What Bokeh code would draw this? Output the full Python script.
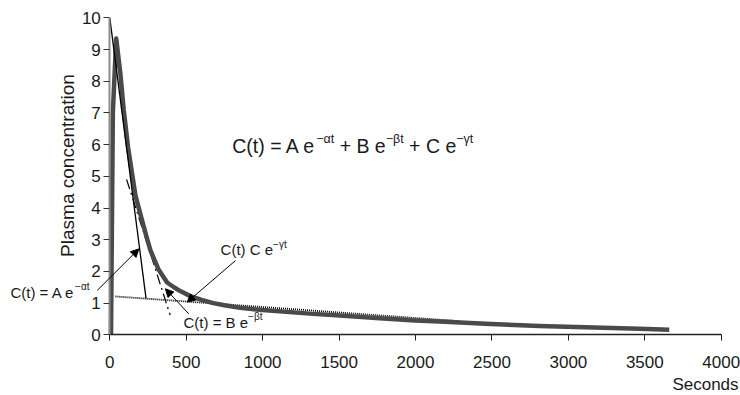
from bokeh.plotting import figure
from bokeh.models import Label, Arrow, NormalHead, Range1d, FixedTicker
from bokeh.embed import file_html
from bokeh.resources import INLINE
import math

# ---- data ----
t_obs = [8, 20, 42, 70, 91, 120, 168, 211, 240, 266, 320, 375, 420, 461, 527,
         600, 677, 750, 853, 1000, 1329, 1505, 1766, 1995, 2158, 2491, 2811,
         2987, 3464, 3660]
c_obs = [0.0, 7.0, 9.35, 8.2, 7.1, 5.9, 4.39, 3.61, 3.1, 2.66, 2.05, 1.65,
         1.5, 1.38, 1.22, 1.1, 1.0, 0.93, 0.85, 0.78, 0.66, 0.61, 0.52, 0.45,
         0.42, 0.34, 0.28, 0.25, 0.19, 0.16]

a_t = [0, 237]          # A e^-alpha t  (thin solid)
a_c = [10.0, 1.15]
b_t = [110, 395]        # B e^-beta t   (dash-dot)
b_c = [4.9, 0.62]
g_t = [37, 2290]        # C e^-gamma t  (dotted)
g_c = [1.21, 0.43]

x_ticks = [0, 500, 1000, 1500, 2000, 2500, 3000, 3500, 4000]
y_ticks = [0, 1, 2, 3, 4, 5, 6, 7, 8, 9, 10]

FONT = "Liberation Sans"
TXT = "#1a1a1a"

p = figure(width=740, height=395, output_backend="svg", toolbar_location=None,
           x_range=Range1d(-715, 4126), y_range=Range1d(-1.915, 10.546),
           min_border=0)
p.outline_line_color = None
p.grid.visible = False
p.background_fill_color = "white"

for ax in (p.xaxis, p.yaxis):
    ax.fixed_location = 0
    ax.major_label_text_font = FONT
    ax.major_label_text_font_size = "17px"
    ax.major_label_text_color = TXT
    ax.minor_tick_line_color = None
    ax.major_tick_in = 0
    ax.major_tick_out = 6
p.xaxis.ticker = FixedTicker(ticks=x_ticks)
p.yaxis.ticker = FixedTicker(ticks=y_ticks)
p.xaxis.bounds = (0, 4000)
p.yaxis.bounds = (0, 10)
p.xaxis.axis_line_color = "#222222"
p.xaxis.axis_line_width = 1.5
p.xaxis.major_tick_line_color = "#222222"
p.xaxis.major_label_standoff = 15
p.yaxis.axis_line_color = "#8c8c8c"
p.yaxis.axis_line_width = 2
p.yaxis.major_tick_line_color = "#333333"
p.yaxis.major_label_standoff = 3

# component lines
p.line(g_t, g_c, line_color="black", line_width=1.8, line_dash="1 1")
p.line(b_t, b_c, line_color="black", line_width=1.2, line_dash="10 4 2 4")
# measured curve
p.line(t_obs, c_obs, line_color="#4a4a4a", line_width=4.5, line_join="round")
p.line(a_t, a_c, line_color="black", line_width=1.3)

# ---- text helpers ----
W = {'C': 722, '(': 333, 't': 278, ')': 333, ' ': 278, '=': 584, 'A': 667,
     'e': 556, '+': 584, 'B': 667, '\u2212': 584, '\u03b1': 578,
     '\u03b2': 575, '\u03b3': 500}


def tw(s, fs):
    return sum(W.get(c, 556) for c in s) * fs / 1000.0


def rich(x, y, segs, size, sup_size, rise):
    off = 0.0
    for s, sup in segs:
        fs = sup_size if sup else size
        stripped = s.lstrip(" ")
        off += tw(s[:len(s) - len(stripped)], fs)
        p.add_layout(Label(x=x, y=y, x_offset=off, y_offset=rise if sup else 0,
                           text=stripped, text_font=FONT,
                           text_font_size=f"{fs}px", text_color=TXT,
                           text_align="left", text_baseline="alphabetic"))
        off += tw(stripped, fs)


# main equation
rich(801, 5.96, [("C(t) = A e", False), ("\u2212\u03b1t", True),
                 (" + B e", False), ("\u2212\u03b2t", True),
                 (" + C e", False), ("\u2212\u03b3t", True)], 19.5, 12.5, 7)
# annotations
rich(-650, 1.34, [("C(t) = A e", False), ("\u2212\u03b1t", True)], 15, 10, 5.5)
rich(482, 0.40, [("C(t) = B e", False), ("\u2212\u03b2t", True)], 15, 10, 5.5)
rich(725, 2.68, [("C(t) C e", False), ("\u2212\u03b3t", True)], 15, 10, 5.5)


def arrow(x0, y0, x1, y1):
    p.add_layout(Arrow(x_start=x0, y_start=y0, x_end=x1, y_end=y1,
                       line_color="black", line_width=1,
                       end=NormalHead(size=8, fill_color="black",
                                      line_color="black", line_width=1)))


arrow(-82, 1.40, 190, 2.71)
arrow(517, 0.66, 364, 1.45)
arrow(822, 2.34, 506, 1.03)

# axis titles
p.add_layout(Label(x=3897, y=-1.57, text="Seconds", text_font=FONT,
                   text_font_size="17px", text_color=TXT,
                   text_align="center", text_baseline="middle"))
p.add_layout(Label(x=-277, y=5.34, text="Plasma concentration", text_font=FONT,
                   text_font_size="19px", text_color=TXT, angle=math.pi / 2,
                   text_align="center", text_baseline="middle"))

open("out.html", "w").write(file_html(p, INLINE))
